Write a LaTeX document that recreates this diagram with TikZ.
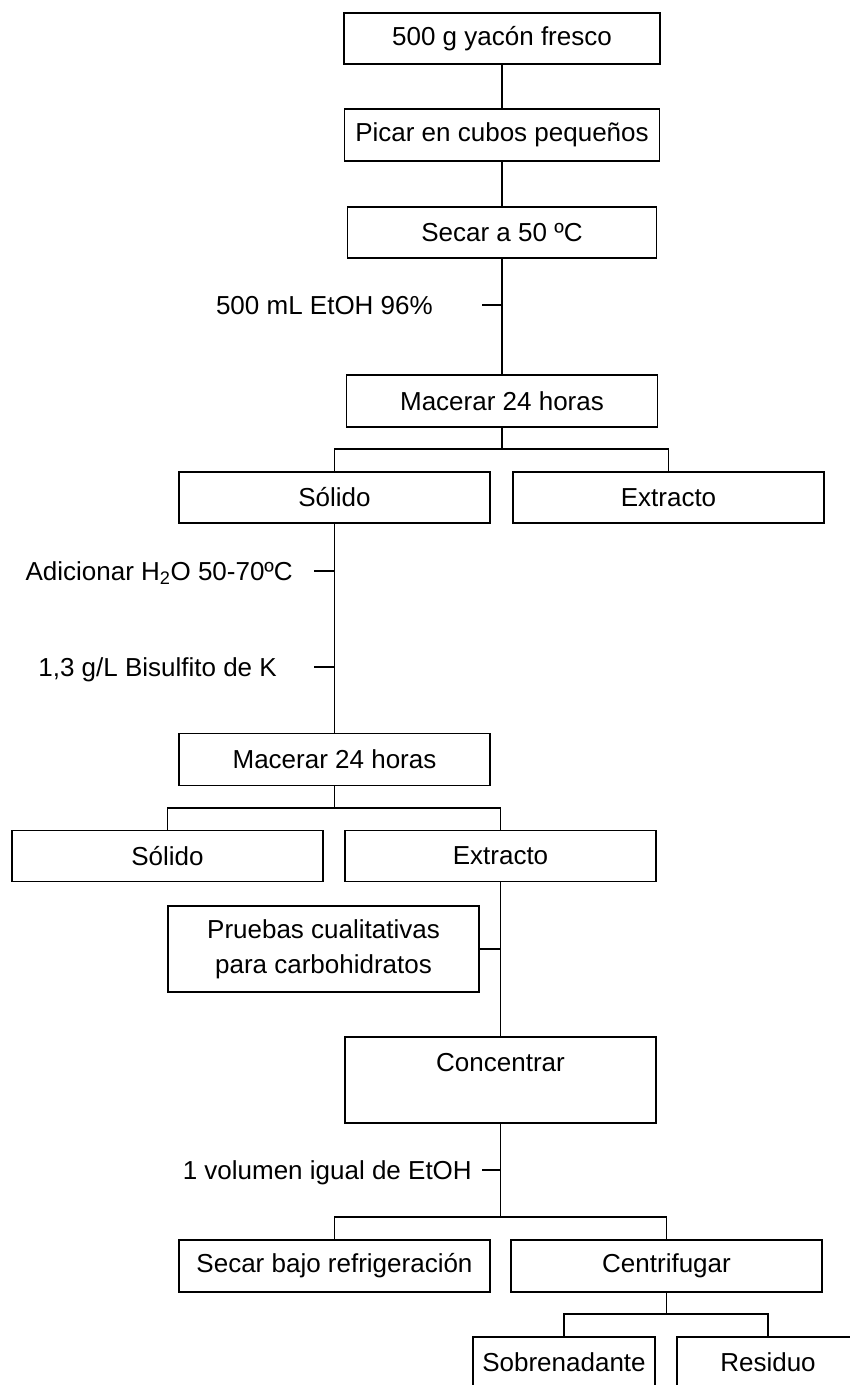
\documentclass[tikz,border=0pt]{standalone}
\usepackage{fontspec}
\setmainfont{Liberation Sans}
\begin{document}
\begin{tikzpicture}[x=1pt, y=-1pt,
  box/.style={draw, line width=1.5pt, minimum width=311pt, minimum height=51pt,
    inner sep=0pt, align=center, font=\fontsize{26}{35}\selectfont},
  tallbox/.style={box, minimum height=86pt},
  smallbox/.style={box, minimum width=182pt},
  wire/.style={line width=1.5pt},
  note/.style={anchor=base east, inner sep=0pt, font=\fontsize{26}{31}\selectfont}]
\useasboundingbox (0,0) rectangle (850,1385);
\clip (0,0) rectangle (850,1385);

% main column
\node[box, minimum width=316pt] (b1) at (502,38.5) {500 g yacón fresco};
\node[box, minimum width=315pt, minimum height=52pt] (b2) at (502,135) {Picar en cubos pequeños};
\node[box, minimum width=309pt] (b3) at (502,232.5) {Secar a 50 ºC};
\node[box, minimum height=52pt] (m1) at (502,401) {Macerar 24 horas};
\node[box] (s1) at (334.5,497.5) {Sólido};
\node[box] (e1) at (668.5,497.5) {Extracto};
\node[box, minimum height=52pt] (m2) at (334.5,759.5) {Macerar 24 horas};
\node[box] (s2) at (167.5,856) {Sólido};
\node[box] (e2) at (500.5,856) {Extracto};
\node[tallbox] (pr) at (323.5,949) {Pruebas cualitativas\\para carbohidratos};
\node[tallbox] (co) at (500.5,1080) {Concentrar\\\mbox{}};
\node[box, minimum height=52pt] (sb) at (334.5,1266) {Secar bajo refrigeración};
\node[box, minimum height=52pt] (ce) at (666.5,1266) {Centrifugar};
\node[smallbox] (so) at (564,1362.5) {Sobrenadante};
\node[smallbox] (re) at (768,1362.5) {Residuo};

% additions beside the flow
\node[note] (n1) at (433,314.3) {500 mL EtOH 96\%};
\node[note] (n2) at (293,580.3) {Adicionar H\textsubscript{2}O 50-70ºC};
\node[note] (n3) at (277,676.3) {1,3 g/L Bisulfito de K};
\node[note] (n4) at (472,1179.3) {1 volumen igual de EtOH};

% tick ends and branch points
\coordinate (t1) at (482,305);
\coordinate (t2) at (314,571);
\coordinate (t3) at (314,667);
\coordinate (t4) at (482,1170);
\coordinate (j1) at (502,449);
\coordinate (j2) at (334.5,808);
\coordinate (j3) at (500.5,1217);
\coordinate (j4) at (666.5,1314);

% connectors
\draw[wire] (b1.south) -- (b2.north);
\draw[wire] (b2.south) -- (b3.north);
\draw[wire] (b3.south) -- (m1.north);
\draw[wire] (t1) -- (t1 -| m1.north);
\draw[wire] (m1.south) -- (j1);
\draw[wire] (s1.north) |- (j1) -| (e1.north);

\draw[wire] (s1.south) -- (m2.north);
\draw[wire] (t2) -- (t2 -| s1.south);
\draw[wire] (t3) -- (t3 -| s1.south);
\draw[wire] (m2.south) -- (j2);
\draw[wire] (s2.north) |- (j2) -| (e2.north);

\draw[wire] (e2.south) -- (co.north);
\draw[wire] (pr.east) -- (pr.east -| e2.south);

\draw[wire] (co.south) -- (j3);
\draw[wire] (t4) -- (t4 -| co.south);
\draw[wire] (sb.north) |- (j3) -| (ce.north);

\draw[wire] (ce.south) -- (j4);
\draw[wire] (so.north) |- (j4) -| (re.north);
\end{tikzpicture}
\end{document}
